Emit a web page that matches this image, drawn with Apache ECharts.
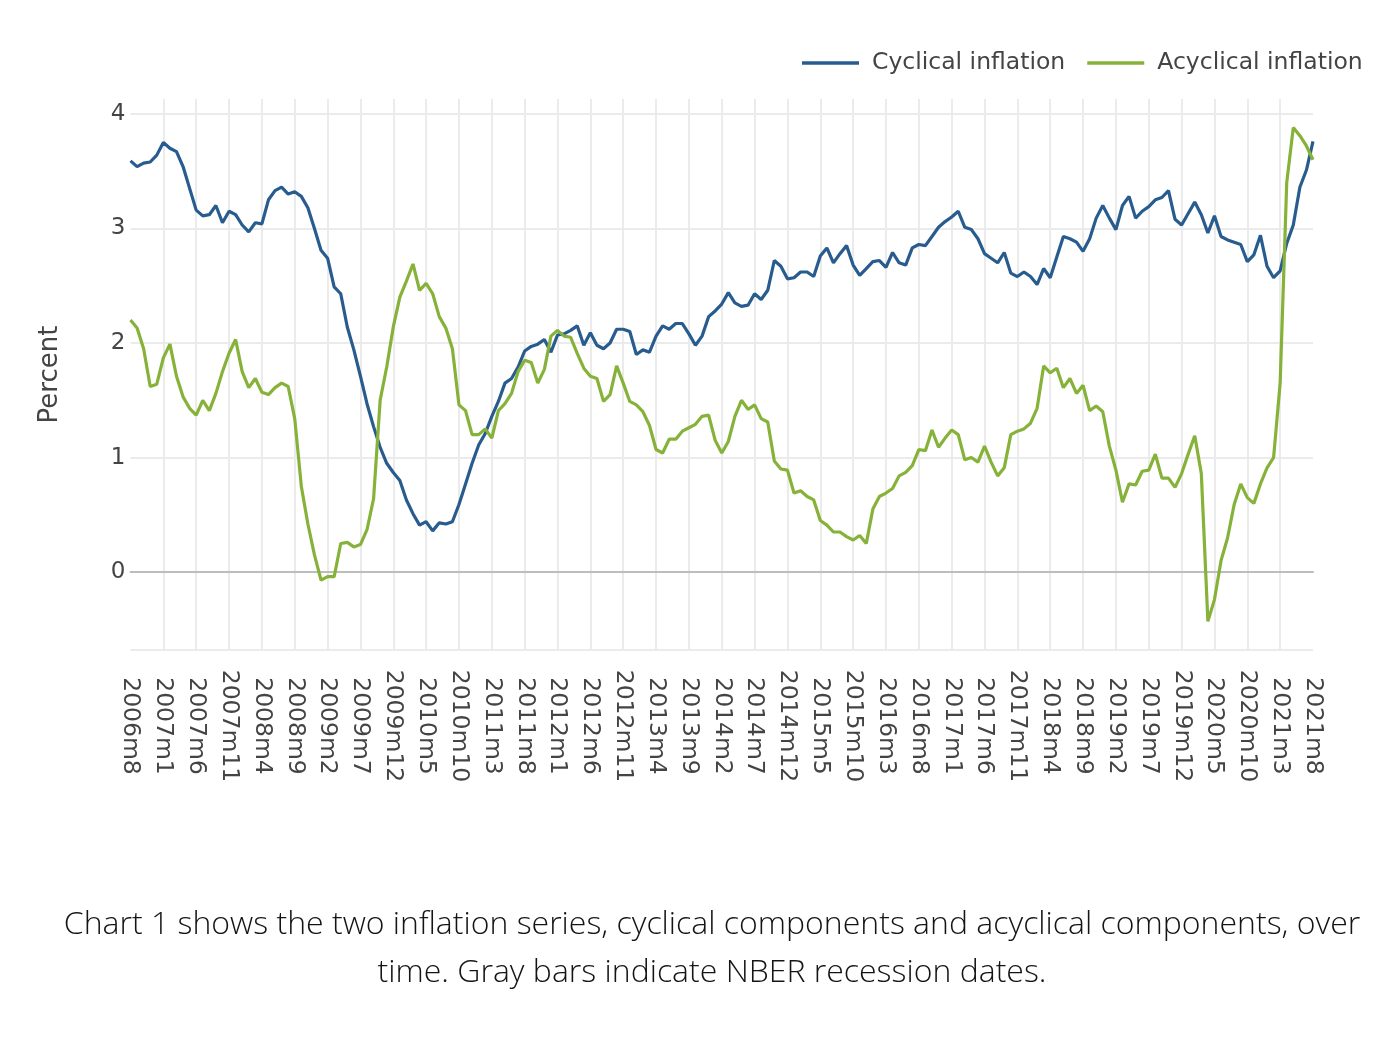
<!DOCTYPE html>
<html>
<head>
<meta charset="utf-8">
<script src="https://cdn.jsdelivr.net/npm/echarts@6/dist/echarts.min.js"></script>
<style>
html,body{margin:0;padding:0;background:#fff;}
#chart{width:1394px;height:1052px;}
</style>
</head>
<body>
<div id="chart"></div>
<script>
// Monthly categories 2006m8 .. 2021m8
const startYear = 2006, startMonth = 8, monthCount = 181;
const categories = [];
for (let k = 0; k < monthCount; k++) {
  const m = startMonth - 1 + k;
  categories.push((startYear + Math.floor(m / 12)) + 'm' + (m % 12 + 1));
}

const seriesNames = ['Cyclical inflation', 'Acyclical inflation'];

const cyclical = [
  3.59,3.54,3.57,3.58,3.64,3.75,3.70,3.67,3.54,3.35,
  3.16,3.11,3.12,3.20,3.05,3.15,3.12,3.03,2.97,3.05,
  3.04,3.25,3.33,3.36,3.30,3.32,3.28,3.18,3.00,2.81,
  2.74,2.49,2.43,2.14,1.94,1.71,1.47,1.27,1.09,0.95,
  0.87,0.80,0.63,0.51,0.41,0.44,0.36,0.43,0.42,0.44,
  0.59,0.77,0.95,1.11,1.21,1.36,1.49,1.65,1.69,1.79,
  1.93,1.97,1.99,2.03,1.92,2.07,2.08,2.11,2.15,1.98,
  2.09,1.98,1.95,2.00,2.12,2.12,2.10,1.90,1.94,1.92,
  2.06,2.15,2.12,2.17,2.17,2.08,1.98,2.06,2.23,2.28,
  2.34,2.44,2.35,2.32,2.33,2.43,2.38,2.46,2.72,2.67,
  2.56,2.57,2.62,2.62,2.58,2.76,2.83,2.70,2.78,2.85,
  2.68,2.59,2.65,2.71,2.72,2.66,2.79,2.70,2.68,2.83,
  2.86,2.85,2.93,3.01,3.06,3.10,3.15,3.01,2.99,2.91,
  2.78,2.74,2.70,2.79,2.61,2.58,2.62,2.58,2.51,2.65,
  2.57,2.75,2.93,2.91,2.88,2.80,2.91,3.09,3.20,3.09,
  2.99,3.20,3.28,3.09,3.15,3.19,3.25,3.27,3.33,3.08,
  3.03,3.13,3.23,3.12,2.96,3.11,2.93,2.90,2.88,2.86,
  2.71,2.77,2.94,2.67,2.57,2.63,2.87,3.03,3.36,3.51,
  3.76
];

const acyclical = [
  2.20,2.13,1.95,1.62,1.64,1.87,1.99,1.71,1.53,1.43,
  1.37,1.50,1.41,1.56,1.75,1.91,2.03,1.75,1.61,1.69,
  1.57,1.55,1.61,1.65,1.62,1.34,0.75,0.42,0.15,-0.07,
  -0.04,-0.04,0.25,0.26,0.22,0.24,0.37,0.64,1.50,1.79,
  2.14,2.40,2.54,2.69,2.46,2.52,2.43,2.23,2.13,1.95,
  1.46,1.41,1.20,1.20,1.25,1.17,1.41,1.47,1.56,1.75,
  1.85,1.83,1.65,1.77,2.06,2.11,2.06,2.05,1.91,1.78,
  1.71,1.69,1.49,1.55,1.80,1.65,1.49,1.46,1.40,1.28,
  1.07,1.04,1.16,1.16,1.23,1.26,1.29,1.36,1.37,1.15,
  1.04,1.14,1.36,1.50,1.42,1.46,1.34,1.31,0.97,0.90,
  0.89,0.69,0.71,0.66,0.63,0.45,0.41,0.35,0.35,0.31,
  0.28,0.32,0.25,0.55,0.66,0.69,0.73,0.84,0.87,0.93,
  1.07,1.06,1.24,1.09,1.17,1.24,1.20,0.98,1.00,0.96,
  1.10,0.96,0.84,0.91,1.20,1.23,1.25,1.30,1.43,1.80,
  1.74,1.78,1.61,1.69,1.56,1.63,1.41,1.45,1.40,1.10,
  0.89,0.61,0.77,0.76,0.88,0.89,1.03,0.82,0.82,0.74,
  0.86,1.03,1.19,0.86,-0.43,-0.24,0.10,0.30,0.59,0.77,
  0.65,0.60,0.77,0.91,1.00,1.65,3.40,3.88,3.81,3.72,
  3.60
];

const yName = 'Percent';
const caption = 'Chart 1 shows the two inflation series, cyclical components and acyclical components, over\ntime. Gray bars indicate NBER recession dates.';

const chart = echarts.init(document.getElementById('chart'), null, {renderer: 'canvas'});
const axisFont = 'DejaVu Sans';
chart.setOption({
  backgroundColor: '#ffffff',
  animation: false,
  title: {
    text: caption,
    left: 707,
    top: 896,
    textAlign: 'center',
    textStyle: {
      fontFamily: 'Open Sans',
      fontWeight: 300,
      fontSize: 32,
      lineHeight: 48,
      color: '#141414'
    }
  },
  legend: {
    data: seriesNames,
    left: 797,
    top: 46,
    icon: 'rect',
    itemWidth: 57,
    itemHeight: 3.5,
    itemGap: 22,
    textStyle: {
      fontFamily: axisFont,
      fontSize: 23.5,
      color: '#444',
      padding: [0, 0, 0, 8]
    }
  },
  grid: {
    left: 130.5,
    right: 81,
    top: 99,
    bottom: 402,
    containLabel: false
  },
  xAxis: {
    type: 'category',
    data: categories,
    boundaryGap: false,
    axisLine: {
      show: true,
      onZero: true,
      lineStyle: {color: '#bdbdbd', width: 2}
    },
    axisTick: {show: false},
    axisLabel: {
      interval: 4,
      rotate: -90,
      align: 'center',
      verticalAlign: 'middle',
      margin: 76,
      fontFamily: axisFont,
      fontSize: 23.5,
      color: '#444'
    },
    splitLine: {
      show: true,
      interval: 4,
      showMinLine: false,
      showMaxLine: false,
      lineStyle: {color: '#ebebeb', width: 2}
    }
  },
  yAxis: {
    type: 'value',
    min: -0.68,
    max: 4.13,
    splitNumber: 5,
    name: yName,
    nameLocation: 'middle',
    nameGap: 67,
    nameTextStyle: {
      fontFamily: axisFont,
      fontSize: 26,
      color: '#444'
    },
    axisLine: {show: false},
    axisTick: {show: false},
    axisLabel: {
      showMinLabel: false,
      showMaxLabel: false,
      margin: 5,
      fontFamily: axisFont,
      fontSize: 23,
      color: '#444'
    },
    splitLine: {
      show: true,
      showMinLine: true,
      showMaxLine: false,
      lineStyle: {color: '#ebebeb', width: 2}
    }
  },
  series: [
    {
      name: seriesNames[0],
      type: 'line',
      data: cyclical,
      symbol: 'none',
      lineStyle: {color: '#285C8E', width: 3.2},
      itemStyle: {color: '#285C8E'}
    },
    {
      name: seriesNames[1],
      type: 'line',
      data: acyclical,
      symbol: 'none',
      lineStyle: {color: '#86B23A', width: 3.2},
      itemStyle: {color: '#86B23A'}
    }
  ]
});
</script>
</body>
</html>
